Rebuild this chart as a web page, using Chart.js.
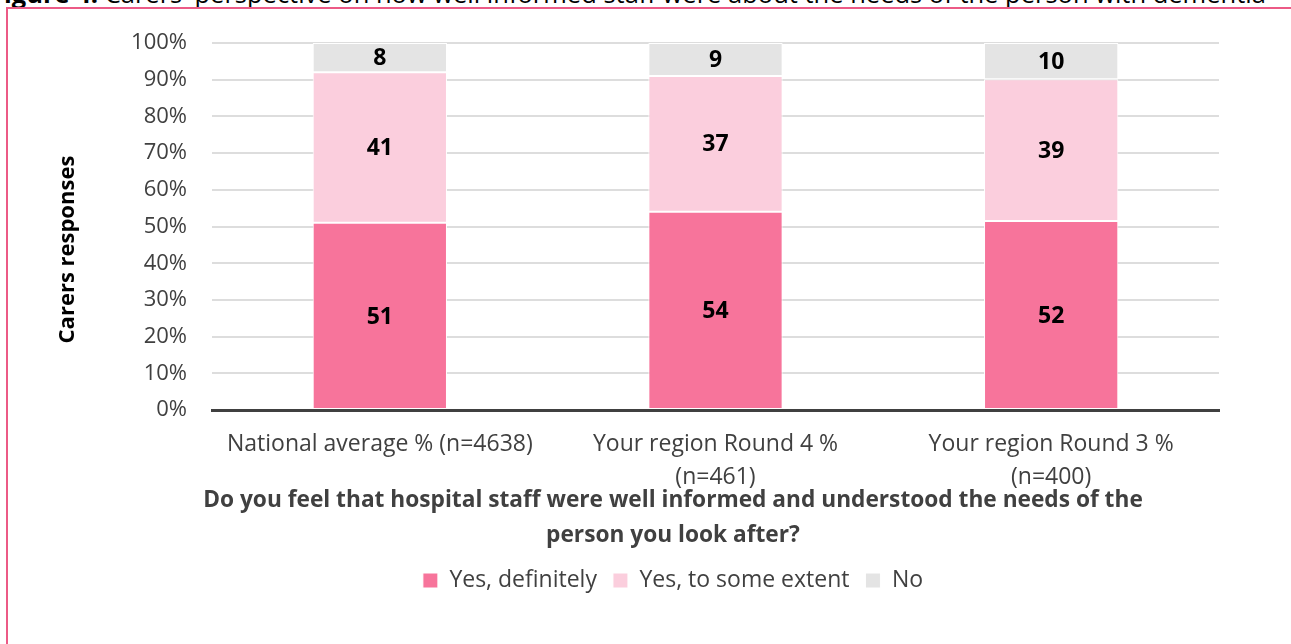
<!DOCTYPE html>
<html>
<head>
<meta charset="utf-8">
<script src="https://cdn.jsdelivr.net/npm/chart.js@4.4.1/dist/chart.umd.min.js"></script>
<style>
    html, body { margin: 0; padding: 0; background: #fff; overflow: hidden; }
    #wrap { position: relative; width: 1291px; height: 644px; overflow: hidden; }
    #caption { position: absolute; left: -10px; top: -24px; white-space: nowrap; font-family: "Open Sans", sans-serif; font-size: 25.5px; color: #000; }
    #frame { position: absolute; left: 6px; top: 7px; width: 1400px; height: 800px; border: 2px solid #EC5A86; box-sizing: border-box; }
    #box { position: absolute; left: 0; top: 0; width: 1291px; height: 644px; }
</style>
</head>
<body>
<div id="wrap">
    <div id="caption"><b>Figure 4:</b> Carers' perspective on how well informed staff were about the needs of the person with dementia</div>
    <div id="frame"></div>
    <div id="box"><canvas id="chart"></canvas></div>
</div>
<script>
const categories = [
    ["National average % (n=4638)"],
    ["Your region Round 4 %", "(n=461)"],
    ["Your region Round 3 %", "(n=400)"]
];
const seriesNames = ["Yes, definitely", "Yes, to some extent", "No"];
const yesDefinitely = [51, 54, 52];
const yesSomeExtent = [41, 37, 39];
const noAnswer = [8, 9, 10];
const yTicks = [0, 10, 20, 30, 40, 50, 60, 70, 80, 90, 100];
const yTitle = "Carers responses";

const colors = ["#F7749B", "#FBCEDD", "#E4E4E4"];
const FONT = "'Open Sans', sans-serif";

// 100% stacked, like the spreadsheet: each bar is scaled to its own total
const totals = yesDefinitely.map((v, i) => v + yesSomeExtent[i] + noAnswer[i]);
const toShare = arr => arr.map((v, i) => v / totals[i] * 100);

const rawSeries = [yesDefinitely, yesSomeExtent, noAnswer];

const segmentLabels = {
    id: "segmentLabels",
    afterDatasetsDraw(chart) {
        const ctx = chart.ctx;
        ctx.save();
        ctx.font = "bold 23px " + FONT;
        ctx.fillStyle = "#000";
        ctx.textAlign = "center";
        ctx.textBaseline = "middle";
        chart.data.datasets.forEach((ds, di) => {
            const meta = chart.getDatasetMeta(di);
            meta.data.forEach((bar, i) => {
                const y = (bar.y + bar.base) / 2;
                ctx.fillText(String(rawSeries[di][i]), bar.x, y + 1);
            });
        });
        ctx.restore();
    }
};

// y axis title drawn by hand so the bottom title and legend can sit where the original has them
const sideTitle = {
    id: "sideTitle",
    afterDraw(chart) {
        const area = chart.chartArea;
        const ctx = chart.ctx;
        ctx.save();
        ctx.translate(area.left - 144, (area.top + area.bottom) / 2 + 23);
        ctx.rotate(-Math.PI / 2);
        ctx.font = "bold 22px " + FONT;
        ctx.fillStyle = "#000";
        ctx.textAlign = "center";
        ctx.textBaseline = "middle";
        ctx.fillText(yTitle, 0, 0);
        ctx.restore();
    }
};

const ctx = document.getElementById("chart").getContext("2d");

new Chart(ctx, {
    type: "bar",
    data: {
        labels: categories,
        datasets: rawSeries.map((arr, i) => ({
            label: seriesNames[i],
            data: toShare(arr),
            backgroundColor: colors[i],
            borderColor: "#ffffff",
            borderWidth: 1,
            borderSkipped: false,
            barPercentage: 0.4,
            categoryPercentage: 1
        }))
    },
    options: {
        responsive: true,
        maintainAspectRatio: false,
        animation: false,
        layout: {
            padding: { left: 127, right: 72, top: 43, bottom: 42 }
        },
        scales: {
            x: {
                stacked: true,
                afterFit(scale) {
                    scale.height = 100;
                },
                grid: { display: false, drawTicks: false },
                border: { color: "#404040", width: 3 },
                ticks: {
                    color: "#404040",
                    padding: 18,
                    maxRotation: 0,
                    autoSkip: false,
                    font: { family: FONT, size: 23, lineHeight: 1.43 }
                }
            },
            y: {
                stacked: true,
                min: 0,
                max: 100,
                afterBuildTicks(scale) {
                    scale.ticks = yTicks.map(v => ({ value: v }));
                },
                afterFit(scale) {
                    scale.width = 85;
                },
                grid: { color: "#DDDDDD", lineWidth: 2, drawTicks: false },
                border: { display: false },
                ticks: {
                    color: "#404040",
                    padding: 25,
                    font: { family: FONT, size: 22 },
                    callback: v => v + "%"
                }
            }
        },
        plugins: {
            title: {
                display: true,
                position: "bottom",
                weight: 500,
                text: [
                    "Do you feel that hospital staff were well informed and understood the needs of the",
                    "person you look after?"
                ],
                color: "#404040",
                padding: { top: -27, bottom: 0 },
                font: { family: FONT, size: 22.7, weight: "bold", lineHeight: 1.54 }
            },
            legend: {
                position: "bottom",
                labels: {
                    color: "#404040",
                    boxWidth: 15,
                    boxHeight: 15,
                    padding: 16,
                    font: { family: FONT, size: 23 }
                }
            },
            tooltip: { enabled: false }
        }
    },
    plugins: [segmentLabels, sideTitle]
});
</script>
</body>
</html>
